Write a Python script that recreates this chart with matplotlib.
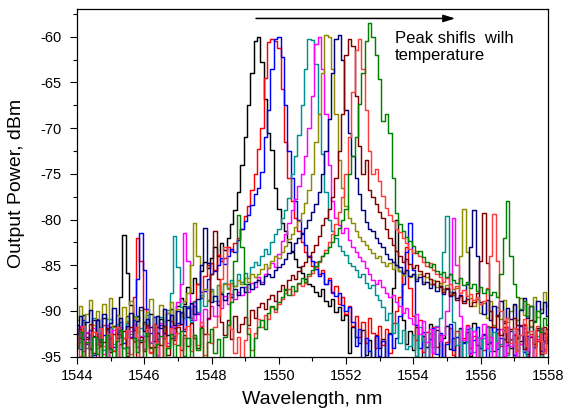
import numpy as np
import matplotlib.pyplot as plt
from matplotlib.ticker import MultipleLocator

plt.rcParams['font.family'] = ['Liberation Sans', 'DejaVu Sans']
plt.rcParams['axes.unicode_minus'] = False

# spectra sampled every 0.1 nm from 1544 to 1558 nm (dBm)
wavelength = np.round(1544 + 0.1 * np.arange(141), 1)

black = [
    -91.5, -93.0, -90.4, -92.8, -94.2, -91.0, -92.5, -93.8, -90.8, -92.2,
    -94.5, -91.6, -92.9, -88.5, -81.7, -85.8, -89.3, -92.1, -90.6, -93.4,
    -91.2, -92.7, -90.3, -93.9, -91.8, -90.9, -92.4, -91.0, -89.8, -91.9,
    -89.5, -88.6, -89.2, -87.4, -88.0, -86.4, -87.1, -85.6, -84.6, -85.3,
    -84.2, -83.0, -84.0, -82.6, -83.3, -82.0, -80.5, -79.0, -77.0, -74.0,
    -71.0, -67.5, -64.0, -60.5, -60.0, -62.8, -66.8, -70.5, -72.4, -76.5,
    -78.8, -80.4, -81.3, -82.4, -83.6, -84.3, -85.2, -85.8, -86.5, -87.0,
    -87.3, -87.9, -88.4, -87.6, -88.9, -89.4, -88.7, -90.1, -89.6, -91.0,
    -90.4, -94.6, -91.7, -92.8, -93.5, -92.1, -94.8, -93.2, -95.8, -92.6,
    -94.0, -93.1, -96.0, -92.4, -87.5, -80.1, -85.6, -91.0, -93.6, -92.2,
    -94.3, -91.8, -95.2, -92.7, -93.9, -91.4, -94.6, -92.1, -95.5, -93.0,
    -91.6, -94.2, -92.9, -95.7, -91.9, -93.4, -92.3, -94.9, -91.3, -93.7,
    -95.1, -92.5, -93.6, -91.8, -94.4, -92.0, -95.3, -93.1, -91.7, -94.0,
    -92.6, -95.0, -93.3, -91.5, -94.7, -92.8, -93.9, -91.9, -95.4, -92.4,
    -93.5]

red = [
    -93.5, -91.8, -95.5, -92.4, -94.0, -96.0, -92.9, -93.7, -91.5, -95.2,
    -93.0, -94.4, -92.0, -92.6, -94.1, -91.3, -93.0, -88.5, -82.0, -84.5,
    -89.8, -92.0, -94.5, -91.4, -93.3, -95.4, -92.1, -93.8, -91.1, -92.7,
    -91.5, -90.2, -92.0, -89.6, -90.8, -88.9, -87.0, -87.9, -86.2, -85.0,
    -84.8, -85.5, -83.9, -84.5, -84.2, -83.0, -83.4, -82.6, -82.0, -81.0,
    -79.6, -78.5, -76.8, -75.0, -72.3, -70.0, -64.5, -60.6, -60.3, -60.5,
    -61.2, -65.7, -71.5, -75.5, -78.0, -79.8, -81.2, -82.4, -83.6, -84.0,
    -85.1, -84.6, -86.0, -85.5, -87.1, -86.4, -88.0, -87.3, -89.2, -88.5,
    -90.3, -89.4, -91.6, -90.5, -92.8, -91.2, -93.5, -90.8, -92.4, -94.1,
    -91.6, -93.7, -92.0, -94.6, -91.3, -90.0, -88.5, -86.0, -83.0, -87.5,
    -90.6, -93.2, -91.0, -94.5, -92.3, -95.6, -91.7, -93.9, -92.6, -96.0,
    -93.4, -91.9, -94.8, -92.2, -95.3, -93.0, -91.5, -94.1, -92.7, -95.8,
    -92.9, -94.3, -91.6, -93.5, -95.0, -92.4, -93.8, -91.8, -94.6, -93.1,
    -95.4, -92.0, -93.6, -91.4, -94.9, -92.5, -95.7, -93.3, -91.9, -94.2,
    -92.8]

blue = [
    -92.5, -94.2, -91.0, -93.6, -92.1, -94.8, -90.9, -93.2, -92.6, -95.1,
    -91.7, -93.9, -92.3, -91.2, -93.5, -90.6, -92.8, -91.0, -86.5, -81.5,
    -85.5, -89.8, -92.4, -90.7, -93.1, -91.5, -92.9, -90.2, -91.8, -93.0,
    -91.3, -90.1, -92.2, -89.7, -91.0, -89.5, -90.3, -88.6, -87.8, -86.5,
    -86.0, -85.6, -85.0, -84.2, -84.9, -84.0, -83.2, -83.5, -82.2, -81.0,
    -80.2, -79.5, -78.4, -77.2, -76.6, -74.8, -71.0, -68.0, -63.5, -60.3,
    -60.0, -62.2, -67.5, -72.5, -75.5, -78.0, -80.0, -81.6, -82.8, -84.0,
    -84.5, -85.4, -86.2, -85.8, -87.0, -86.6, -87.9, -88.4, -88.0, -89.3,
    -90.0, -89.6, -91.2, -93.8, -92.0, -95.6, -93.0, -94.4, -96.0, -92.7,
    -94.9, -93.3, -95.8, -92.5, -94.1, -93.0, -90.5, -87.0, -83.5, -80.4,
    -85.5, -91.5, -94.0, -92.3, -95.4, -93.1, -91.9, -94.7, -92.4, -95.2,
    -93.6, -91.4, -94.3, -92.8, -95.9, -93.5, -92.0, -94.6, -93.2, -91.7,
    -94.0, -92.6, -95.5, -93.4, -91.8, -94.2, -92.9, -95.1, -93.7, -92.2,
    -94.8, -93.0, -91.6, -94.5, -92.7, -95.3, -93.9, -92.1, -94.4, -93.3,
    -92.0]

teal = [
    -92.0, -93.4, -91.2, -94.1, -92.6, -90.8, -93.0, -91.7, -94.3, -92.2,
    -90.9, -93.6, -91.4, -92.8, -94.0, -91.1, -92.5, -90.6, -93.2, -91.9,
    -92.7, -90.4, -93.5, -91.6, -92.3, -90.7, -91.8, -89.9, -88.0, -81.8,
    -85.2, -89.6, -90.8, -89.4, -91.2, -89.0, -90.1, -88.3, -89.5, -88.8,
    -87.6, -88.9, -87.2, -88.0, -86.9, -87.5, -86.6, -87.3, -86.0, -86.8,
    -85.8, -86.4, -85.2, -84.6, -85.0, -84.0, -83.2, -83.8, -82.4, -81.6,
    -81.0, -79.8, -78.9, -77.6, -75.0, -73.0, -70.8, -67.5, -63.5, -60.3,
    -60.4, -63.0, -68.5, -72.8, -77.0, -80.0, -81.2, -82.0, -82.9, -83.4,
    -83.9, -84.7, -85.1, -85.5, -86.3, -86.0, -86.9, -87.5, -87.2, -88.3,
    -88.8, -89.6, -91.0, -90.2, -92.4, -91.3, -93.5, -92.1, -94.2, -93.8,
    -92.6, -94.9, -91.8, -93.3, -95.5, -92.4, -93.9, -91.6, -90.8, -83.5,
    -79.6, -86.0, -91.2, -93.7, -92.0, -95.2, -93.4, -91.9, -94.5, -92.8,
    -95.6, -93.0, -91.7, -94.4, -92.3, -95.0, -93.6, -92.1, -94.8, -93.2,
    -91.9, -94.3, -92.6, -95.4, -93.1, -91.8, -94.0, -92.7, -95.3, -93.5,
    -92.4]

magenta = [
    -93.1, -91.6, -94.4, -92.3, -95.0, -91.9, -93.6, -92.4, -94.7, -91.5,
    -93.8, -92.1, -95.3, -91.8, -93.0, -94.6, -92.2, -91.4, -93.9, -92.7,
    -94.2, -91.7, -93.4, -92.0, -94.8, -91.3, -92.9, -93.5, -91.6, -92.4,
    -89.0, -87.0, -81.5, -84.5, -89.2, -91.0, -90.2, -91.6, -89.8, -90.9,
    -89.4, -90.5, -88.9, -89.7, -88.4, -89.2, -88.1, -88.7, -87.9, -88.3,
    -87.4, -87.9, -86.9, -87.4, -86.3, -86.8, -85.9, -85.3, -84.8, -85.2,
    -83.8, -82.3, -81.6, -80.4, -79.0, -77.8, -76.3, -75.0, -73.0, -70.0,
    -66.5, -60.8, -60.0, -63.5, -68.5, -74.0, -78.0, -79.8, -80.6, -81.5,
    -80.9, -82.2, -83.0, -83.6, -84.1, -84.5, -85.3, -85.9, -86.6, -87.0,
    -86.6, -87.4, -88.0, -88.5, -88.2, -89.0, -89.4, -90.2, -89.7, -90.8,
    -91.4, -90.3, -92.5, -91.1, -93.4, -92.0, -94.6, -91.8, -93.3, -92.6,
    -90.0, -86.0, -79.8, -85.0, -90.5, -93.2, -91.6, -94.7, -92.2, -95.5,
    -93.0, -91.4, -94.1, -92.8, -95.8, -93.5, -92.0, -94.9, -91.7, -93.8,
    -92.5, -95.2, -93.6, -91.9, -94.3, -92.7, -95.6, -93.1, -92.0, -94.4,
    -93.0]

olive = [
    -91.0, -89.5, -92.2, -90.3, -88.8, -91.5, -90.0, -92.6, -89.2, -90.9,
    -88.6, -91.8, -90.4, -92.0, -89.6, -91.2, -88.9, -90.7, -92.3, -89.9,
    -91.4, -90.1, -88.7, -91.9, -90.5, -89.3, -92.1, -90.2, -89.0, -91.3,
    -89.8, -90.6, -88.9, -88.0, -85.0, -80.4, -84.0, -88.5, -87.6, -88.9,
    -87.8, -88.4, -87.2, -87.9, -87.0, -87.6, -86.9, -87.3, -86.6, -87.0,
    -86.4, -86.8, -85.9, -86.3, -86.0, -85.4, -84.9, -85.3, -84.5, -84.0,
    -84.2, -83.5, -82.9, -82.1, -81.6, -80.8, -80.2, -79.3, -78.2, -76.8,
    -75.0, -71.5, -68.5, -64.0, -59.8, -60.0, -63.5, -68.5, -73.5, -76.5,
    -78.5, -79.8, -80.4, -81.3, -81.9, -82.3, -82.8, -83.2, -83.7, -84.2,
    -84.0, -84.6, -85.1, -84.8, -85.4, -85.0, -85.6, -86.1, -85.5, -86.3,
    -85.9, -86.5, -86.0, -86.8, -86.3, -87.0, -86.6, -87.4, -86.9, -87.6,
    -87.2, -87.9, -88.3, -87.5, -84.0, -78.8, -83.5, -88.6, -89.4, -88.7,
    -90.2, -89.1, -90.8, -88.9, -91.5, -89.6, -90.9, -88.8, -91.2, -90.0,
    -89.3, -91.0, -88.6, -90.4, -89.2, -91.6, -88.5, -90.7, -89.8, -87.9,
    -89.5]

navy = [
    -92.4, -90.6, -93.1, -91.2, -89.9, -92.7, -91.0, -93.4, -90.3, -92.0,
    -91.3, -89.7, -92.5, -90.8, -93.0, -91.6, -90.2, -92.9, -91.1, -89.6,
    -92.2, -90.9, -91.7, -93.3, -90.5, -91.9, -89.8, -92.6, -90.4, -91.5,
    -90.0, -91.4, -89.5, -90.7, -89.1, -90.3, -88.7, -85.0, -80.9, -84.8,
    -89.0, -88.4, -89.3, -88.1, -88.8, -88.0, -88.5, -87.6, -88.2, -87.4,
    -87.9, -87.1, -87.6, -86.8, -86.6, -87.0, -86.2, -85.9, -86.3, -85.5,
    -85.2, -84.9, -84.3, -83.7, -83.4, -82.6, -82.0, -81.5, -80.9, -80.0,
    -79.2, -78.3, -77.0, -75.0, -72.5, -69.0, -64.0, -60.2, -59.8, -62.5,
    -68.0, -70.5, -73.0, -75.4, -77.2, -79.0, -80.3, -81.0, -81.2, -82.0,
    -82.6, -83.0, -83.8, -84.3, -84.6, -85.0, -85.2, -85.8, -85.5, -86.2,
    -86.0, -86.7, -86.3, -87.1, -86.8, -87.5, -87.0, -87.8, -87.3, -88.1,
    -87.6, -88.4, -87.9, -88.6, -88.2, -88.9, -87.0, -83.0, -78.9, -84.0,
    -89.0, -90.3, -88.8, -91.0, -89.5, -90.6, -88.9, -91.3, -89.7, -90.9,
    -89.2, -91.5, -89.9, -88.6, -90.8, -89.4, -91.1, -88.9, -90.2, -89.0,
    -90.5]

wine = [
    -93.8, -92.0, -95.3, -93.1, -91.4, -94.6, -92.7, -95.8, -93.4, -91.9,
    -94.1, -92.5, -96.0, -93.6, -92.2, -94.9, -91.7, -93.3, -95.5, -92.8,
    -94.4, -91.5, -93.9, -95.1, -92.4, -93.7, -91.6, -94.8, -92.9, -93.2,
    -91.8, -94.3, -92.6, -93.8, -91.3, -92.9, -94.0, -91.7, -92.5, -90.8,
    -86.0, -81.3, -86.5, -91.2, -92.6, -91.0, -93.1, -90.6, -92.3, -91.4,
    -90.7, -91.5, -89.9, -90.8, -89.6, -89.1, -89.8, -88.7, -88.2, -88.9,
    -87.8, -87.2, -87.7, -86.6, -86.1, -86.5, -85.6, -85.1, -84.6, -84.1,
    -83.5, -82.8, -81.8, -80.6, -79.8, -78.8, -77.5, -75.5, -72.5, -68.5,
    -62.0, -60.3, -61.0, -66.5, -72.0, -75.0, -73.5, -76.8, -77.5, -78.3,
    -79.2, -79.8, -81.0, -82.0, -82.8, -83.4, -84.0, -84.6, -84.3, -84.9,
    -85.3, -85.0, -85.6, -86.2, -85.8, -86.5, -87.0, -86.7, -87.4, -87.9,
    -87.5, -88.3, -88.0, -88.8, -88.4, -89.1, -88.7, -89.5, -89.0, -88.0,
    -84.5, -79.3, -84.8, -90.0, -91.8, -90.4, -92.6, -91.1, -93.4, -92.0,
    -90.8, -93.0, -91.5, -94.2, -92.3, -91.0, -93.6, -92.1, -94.7, -91.8,
    -93.2]

light_red = [
    -92.7, -94.9, -91.6, -93.5, -95.7, -92.3, -94.0, -91.9, -93.8, -96.0,
    -92.5, -94.3, -91.7, -95.2, -93.0, -92.1, -94.7, -93.4, -91.8, -95.0,
    -93.3, -92.0, -94.6, -91.5, -93.9, -95.6, -92.8, -94.1, -91.9, -93.6,
    -92.4, -95.3, -93.0, -91.6, -94.4, -92.6, -93.7, -91.2, -94.8, -92.5,
    -93.5, -91.8, -90.5, -86.5, -83.0, -87.0, -92.0, -94.6, -92.8, -95.5,
    -93.2, -91.9, -94.3, -92.4, -90.9, -91.8, -90.4, -90.9, -89.6, -90.1,
    -89.2, -88.7, -88.0, -87.6, -88.3, -87.8, -87.0, -87.3, -86.9, -86.2,
    -85.8, -85.2, -84.6, -84.0, -83.3, -82.5, -81.6, -80.5, -79.2, -77.5,
    -75.0, -71.0, -66.0, -61.5, -60.3, -63.5, -68.0, -72.5, -75.0, -74.5,
    -75.8, -77.4, -78.7, -79.5, -80.2, -81.0, -81.4, -82.0, -82.6, -83.2,
    -83.7, -83.4, -84.0, -84.6, -85.1, -84.8, -85.5, -86.0, -86.3, -86.8,
    -86.4, -87.1, -87.6, -87.3, -88.0, -87.7, -88.4, -88.1, -88.8, -88.5,
    -89.2, -88.9, -87.5, -84.0, -79.4, -84.5, -90.0, -92.3, -90.8, -93.5,
    -91.9, -94.4, -92.6, -90.9, -93.8, -92.2, -95.1, -91.6, -93.3, -94.6,
    -92.1]

green = [
    -94.0, -92.3, -95.6, -93.4, -96.2, -92.8, -94.7, -93.1, -95.9, -92.6,
    -94.2, -96.0, -93.3, -92.1, -95.1, -93.9, -96.4, -92.9, -94.5, -93.2,
    -95.7, -92.4, -94.1, -96.1, -93.6, -92.7, -95.3, -94.0, -92.5, -95.0,
    -93.7, -92.2, -94.9, -93.0, -95.8, -92.6, -94.3, -91.9, -95.2, -93.4,
    -92.0, -94.6, -93.1, -95.5, -92.8, -91.5, -89.0, -84.5, -79.5, -83.0,
    -87.0, -92.5, -95.8, -93.0, -91.8, -91.0, -92.0, -90.2, -89.4, -89.8,
    -89.0, -88.5, -87.6, -88.2, -87.3, -87.8, -86.9, -86.4, -86.8, -85.9,
    -85.5, -85.1, -84.5, -84.0, -83.7, -83.0, -82.4, -81.7, -80.9, -80.0,
    -78.8, -75.0, -73.0, -71.0, -67.4, -64.0, -60.5, -58.5, -60.0, -62.0,
    -64.6, -69.2, -68.5, -70.5, -75.4, -79.3, -80.5, -81.2, -81.9, -82.3,
    -82.9, -83.7, -83.4, -84.1, -84.6, -85.2, -84.9, -85.6, -86.0, -85.7,
    -86.3, -86.0, -86.6, -86.9, -86.4, -87.2, -86.8, -87.5, -87.1, -87.8,
    -87.4, -88.0, -87.6, -88.3, -87.9, -88.5, -86.0, -82.0, -78.0, -84.0,
    -87.0, -88.5, -89.8, -88.9, -90.6, -89.4, -91.2, -90.0, -92.3, -90.8,
    -91.5]

series = [black, red, blue, teal, magenta, olive, navy, wine, light_red, green]
colors = ['#000000', '#ff0000', '#0000ff', '#009090', '#ff00ff',
          '#8c8c00', '#000080', '#800000', '#ff3c3c', '#008000']

fig = plt.figure(figsize=(5.69, 4.15), dpi=100)
ax = fig.add_axes([77 / 569, 1 - 356.7 / 415, 471 / 569, 347.4 / 415])

for values, c in zip(series, colors):
    ax.plot(wavelength, values, color=c, lw=1.05, drawstyle='steps-mid')

ax.set_xlim(1544, 1558)
ax.set_ylim(-95, -57)
ax.xaxis.set_major_locator(MultipleLocator(2))
ax.xaxis.set_minor_locator(MultipleLocator(1))
ax.yaxis.set_major_locator(MultipleLocator(5))
ax.yaxis.set_minor_locator(MultipleLocator(2.5))
ax.tick_params(which='both', direction='out', width=0.8, labelsize=10.5)
ax.tick_params(which='major', length=5)
ax.tick_params(which='minor', length=3)
ax.tick_params(axis='x', pad=4)
ax.tick_params(axis='y', pad=6)
for s in ax.spines.values():
    s.set_linewidth(0.9)

ax.set_xlabel('Wavelength, nm', fontsize=14)
ax.set_ylabel('Output Power, dBm', fontsize=14)
ax.xaxis.set_label_coords(0.5, -0.1)
ax.yaxis.set_label_coords(-0.11, 0.5)

ax.annotate('', xy=(1555.24, -58.0), xytext=(1549.32, -58.0),
            arrowprops=dict(arrowstyle='-|>,head_length=0.7,head_width=0.22',
                            color='black', lw=1.1, shrinkA=0, shrinkB=0))
ax.text(1553.45, -59.35, 'Peak shifls  wilh\ntemperature', fontsize=12,
        ha='left', va='top', linespacing=1.2)

fig.savefig('out.png', dpi=100)
